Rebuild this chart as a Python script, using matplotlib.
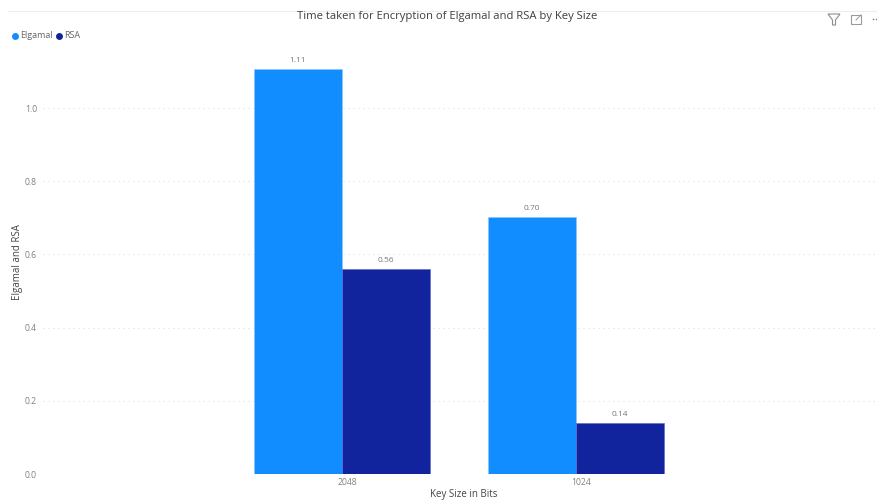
import matplotlib
matplotlib.use("Agg")
import matplotlib.pyplot as plt
import numpy as np
from matplotlib.lines import Line2D
from matplotlib.patches import Rectangle, Polygon
from matplotlib.transforms import ScaledTranslation

categories = ["2048", "1024"]
elgamal = [1.107, 0.703]
rsa = [0.561, 0.139]
elgamal_labels = ["1.11", "0.70"]
rsa_labels = ["0.56", "0.14"]
yticks = [0.0, 0.2, 0.4, 0.6, 0.8, 1.0]
title = "Time taken for Encryption of Elgamal and RSA by Key Size"
xlabel = "Key Size in Bits"
ylabel = "Elgamal and RSA"

W, H = 878, 501
plt.rcParams["font.family"] = ["Open Sans", "DejaVu Sans"]
fig = plt.figure(figsize=(W / 100, H / 100), dpi=100)
L, R, T, B = 43, 878, 40, 474
ax = fig.add_axes([L / W, 1 - B / H, (R - L) / W, (B - T) / H])

C1, C2 = "#118DFF", "#12239E"
x = np.arange(len(categories))
bw = 88.2 / 234
ax.bar(x - bw / 2, elgamal, bw, color=C1, edgecolor="#8cc4ff", linewidth=0.4, zorder=3)
ax.bar(x + bw / 2, rsa, bw, color=C2, edgecolor="#5a68c8", linewidth=0.4, zorder=3)
for xi, v, s in zip(x - bw / 2, elgamal, elgamal_labels):
    ax.annotate(s, (xi, v), xytext=(0, 3.6), textcoords="offset points", ha="center", va="bottom", fontsize=6, color="#777777")
for xi, v, s in zip(x + bw / 2, rsa, rsa_labels):
    ax.annotate(s, (xi, v), xytext=(0, 3.6), textcoords="offset points", ha="center", va="bottom", fontsize=6, color="#777777")

ax.set_xlim((L - 342) / 234, (R - 342) / 234)
ax.set_ylim(0, (B - T) / 366)
ax.set_yticks(yticks)
ax.set_yticklabels([f"{t:.1f}" for t in yticks], fontsize=6.2, color="#808080")
ax.set_xticks(x)
ax.set_xticklabels(categories, fontsize=6.2, color="#808080")
ax.tick_params(length=0)
ax.tick_params(axis="x", pad=3)
ax.tick_params(axis="y", pad=4.3)
shift = ScaledTranslation(5 / 100, 0, fig.dpi_scale_trans)
for lbl in ax.get_xticklabels():
    lbl.set_transform(lbl.get_transform() + shift)
ax.yaxis.grid(True, color="#dddddd", linewidth=0.8, linestyle=(0, (1, 3.5)), zorder=0)
ax.set_axisbelow(True)
for s in ax.spines.values():
    s.set_visible(False)
fig.text(463.5 / W, 1 - 495 / H, xlabel, fontsize=7, color="#444444", ha="center", va="center")
fig.text(18 / W, 1 - 262 / H, ylabel, rotation=90, fontsize=7, color="#444444", ha="center", va="center")
fig.text(447.5 / W, 1 - 16.5 / H, title, fontsize=8.1, color="#3f3f3f", ha="center", va="center")

# top divider
fig.add_artist(Line2D([8 / W, 1], [1 - 10.5 / H] * 2, color="#eeeeee", lw=0.8))

# legend
for px, c, s in [(15, C1, "Elgamal"), (59.5, C2, "RSA")]:
    fig.add_artist(Line2D([px / W], [1 - 35.5 / H], marker="o", ms=5, color=c, mec="none", ls=""))
    fig.text((px + 5) / W, 1 - 36 / H, s, fontsize=6.5, color="#666666", ha="left", va="center")

# header icons
def fx(p): return [(a / W, 1 - b / H) for a, b in p]
fig.add_artist(Polygon(fx([(828, 14), (840, 14), (835.5, 20), (835.5, 25), (832.5, 25), (832.5, 20)]),
                       closed=True, fill=False, ec="#8c8c8c", lw=0.8, transform=fig.transFigure))
fig.add_artist(Rectangle((851 / W, 1 - 24 / H), 10 / W, 9 / H, fill=False, ec="#9a9a9a", lw=0.8, transform=fig.transFigure))
fig.add_artist(Line2D([856 / W, 861 / W], [1 - 20 / H, 1 - 15 / H], color="#9a9a9a", lw=0.7))
for px in (873, 876):
    fig.add_artist(Line2D([px / W], [1 - 19 / H], marker="o", ms=1.2, color="#888888", mec="none", ls=""))

fig.savefig("out.png", dpi=100)
